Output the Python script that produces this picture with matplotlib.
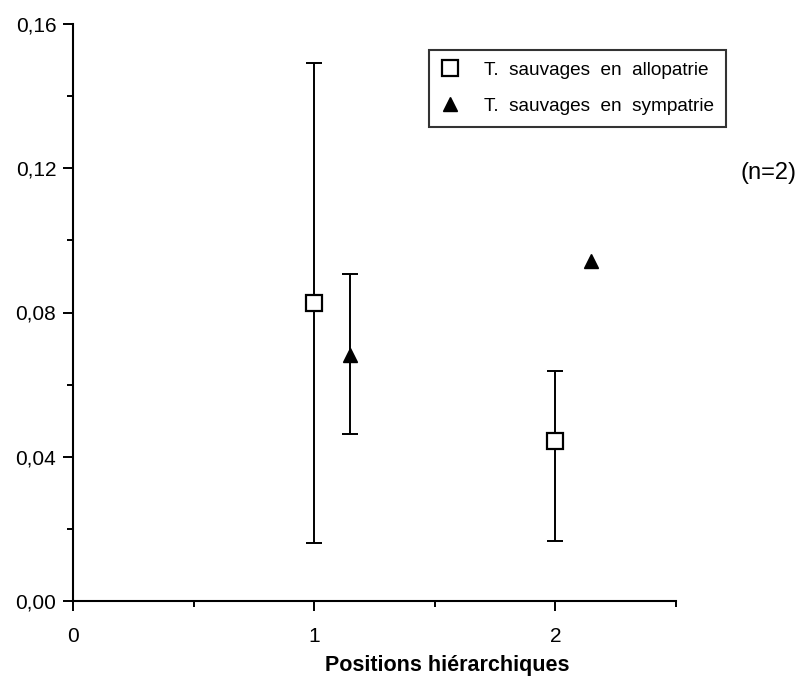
import matplotlib.pyplot as plt
from matplotlib.ticker import MultipleLocator, FixedFormatter, FixedLocator

plt.rcParams['font.family'] = ['Liberation Sans', 'DejaVu Sans']

# data
allo_x = [1.0, 2.0]
allo_y = [0.0826, 0.0444]
allo_lo = [0.0161, 0.0166]
allo_hi = [0.1492, 0.0638]

# second sympatric point has no visible error bar
symp_x = [1.147, 2.149]
symp_y = [0.0683, 0.0943]
symp_lo = [0.0464, None]
symp_hi = [0.0906, None]

y_ticks = [0.0, 0.04, 0.08, 0.12, 0.16]
y_labels = ['0,00', '0,04', '0,08', '0,12', '0,16']
x_ticks = [0, 1, 2]

fig = plt.figure(figsize=(8.05, 6.77), dpi=100)
ax = fig.add_axes([73 / 805, 1 - 601 / 677, 603 / 805, 577 / 677])

bar_style = dict(fmt='none', ecolor='black', elinewidth=1.4, capsize=6,
                 capthick=1.4, zorder=2)

ax.errorbar(allo_x, allo_y,
            yerr=[[y - lo for y, lo in zip(allo_y, allo_lo)],
                  [hi - y for y, hi in zip(allo_y, allo_hi)]], **bar_style)

sx = [x for x, lo in zip(symp_x, symp_lo) if lo is not None]
sy = [y for y, lo in zip(symp_y, symp_lo) if lo is not None]
slo = [lo for lo in symp_lo if lo is not None]
shi = [hi for hi in symp_hi if hi is not None]
ax.errorbar(sx, sy, yerr=[[y - lo for y, lo in zip(sy, slo)],
                          [hi - y for y, hi in zip(sy, shi)]], **bar_style)

ax.plot(allo_x, allo_y, 's', color='black', markerfacecolor='white',
        markeredgewidth=1.6, markersize=11.5, zorder=3,
        label='T.  sauvages  en  allopatrie')
ax.plot(symp_x, symp_y, '^', color='black', markersize=10, zorder=3,
        label='T.  sauvages  en  sympatrie')

ax.set_xlim(0, 2.5)
ax.set_ylim(0, 0.16)
ax.spines['top'].set_visible(False)
ax.spines['right'].set_visible(False)
ax.spines['left'].set_linewidth(1.5)
ax.spines['bottom'].set_linewidth(1.5)

ax.yaxis.set_major_locator(FixedLocator(y_ticks))
ax.yaxis.set_major_formatter(FixedFormatter(y_labels))
ax.yaxis.set_minor_locator(MultipleLocator(0.02))
ax.xaxis.set_major_locator(FixedLocator(x_ticks))
ax.xaxis.set_minor_locator(MultipleLocator(0.5))
ax.tick_params(which='major', length=7, width=1.4, labelsize=15, pad=5)
ax.tick_params(which='minor', length=4, width=1.4)
ax.tick_params(axis='x', pad=12)

ax.set_xlabel('Positions hiérarchiques', fontsize=15.5, fontweight='bold')
ax.xaxis.set_label_coords((447 - 73) / 603, -(665 - 601) / 577)
ax.xaxis.label.set_va('center')

leg = fig.legend(loc='upper left', bbox_to_anchor=(429 / 805, 1 - 50 / 677),
                 fontsize=13.7, frameon=True, fancybox=False, edgecolor='black',
                 handlelength=1.0, handletextpad=1.3, borderpad=0.6,
                 labelspacing=1.0, borderaxespad=0)
leg.get_frame().set_linewidth(1.5)

fig.text(740 / 805, 1 - 173 / 677, '(n=2)', fontsize=17, va='center', ha='left')

fig.savefig('out.png', dpi=100)
